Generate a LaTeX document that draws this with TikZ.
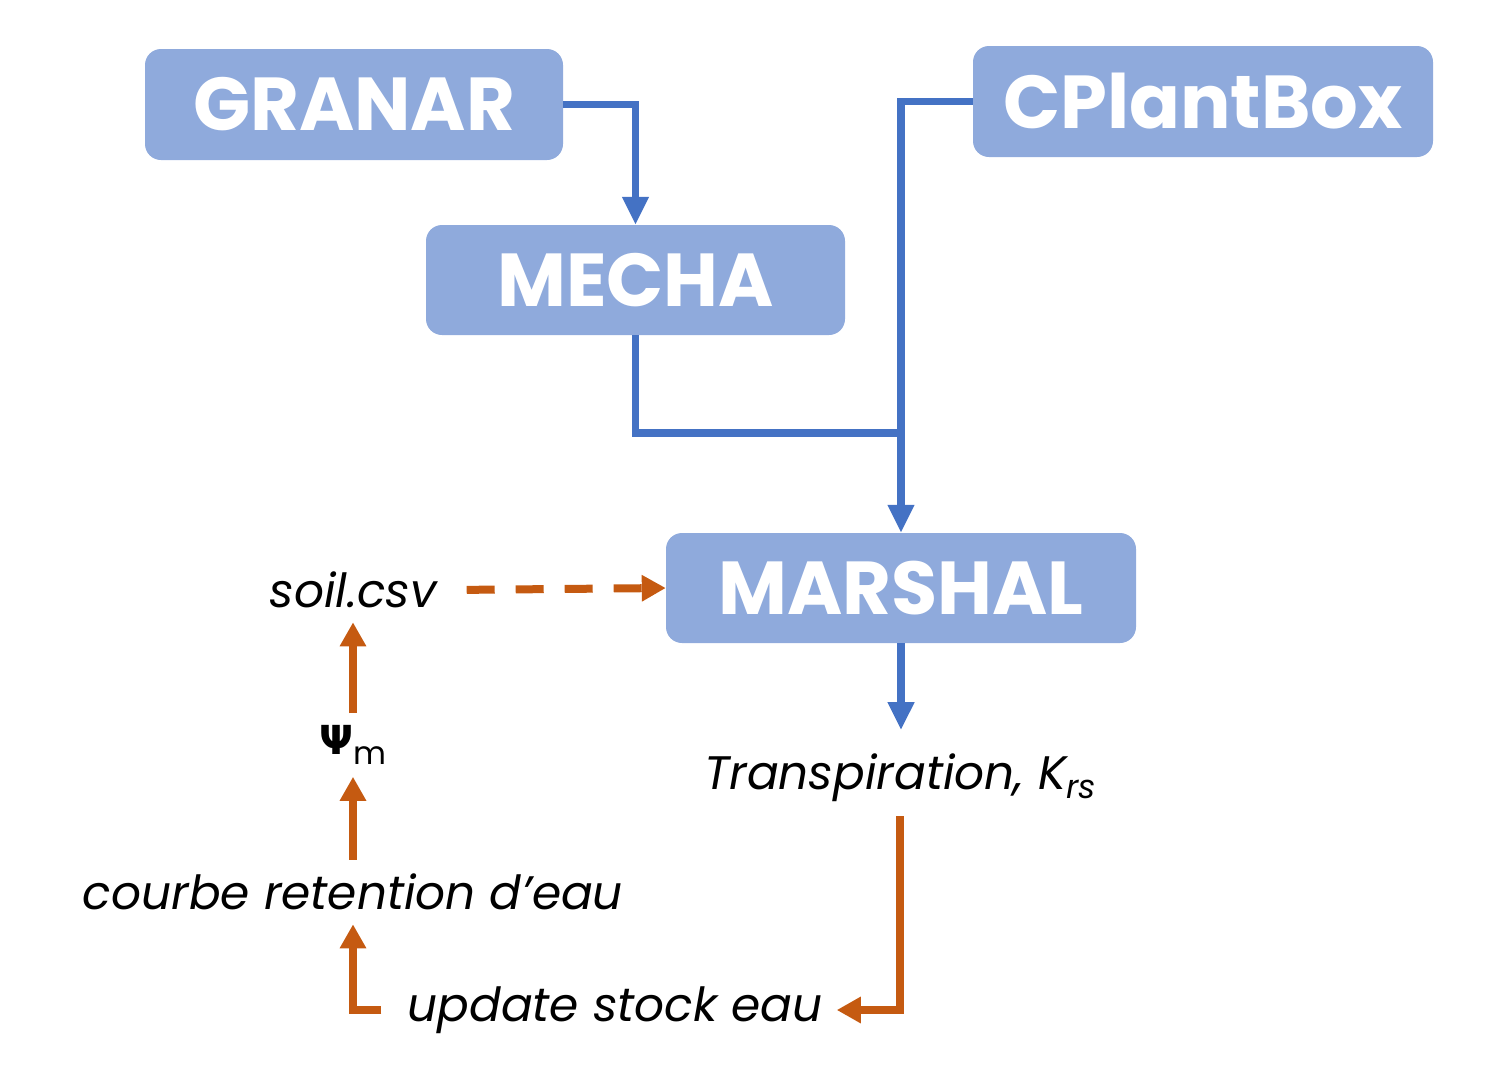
\documentclass[tikz,border=0pt]{standalone}
\usepackage{fontspec}
\setmainfont{Poppins}
\newfontfamily\psifont{DejaVu Sans}
\usetikzlibrary{arrows.meta}
\definecolor{boxblue}{HTML}{8FAADC}
\definecolor{lineblue}{HTML}{4472C4}
\definecolor{rust}{HTML}{C55A11}
\tikzset{
  model/.style={fill=boxblue, rounded corners=16pt, inner sep=0pt, text=white,
    font=\fontsize{75}{80}\selectfont\bfseries},
  lbl/.style={inner sep=14pt, font=\fontsize{47}{52}\selectfont\itshape},
  bflow/.style={lineblue, line width=7.5pt, ->, >={Triangle[length=28pt,width=25pt]}},
  oflow/.style={rust, line width=8pt, ->, >={Triangle[length=24pt,width=25pt]}}
}
\begin{document}
\begin{tikzpicture}[x=1pt, y=-1pt, line join=miter]
\useasboundingbox (0,0) rectangle (1491,1088);
% models
\node[model, minimum width=418pt, minimum height=111pt] (granar) at (354,104.5) {GRANAR};
\node[model, minimum width=419pt, minimum height=110pt] (mecha) at (635.5,280) {MECHA};
\node[model, minimum width=460pt, minimum height=111pt] (cplantbox) at (1203,101.5) {CPlantBox};
\node[model, minimum width=470pt, minimum height=110pt] (marshal) at (901,588) {MARSHAL};
% labels
\node[lbl] (transp) at (900,778) {Transpiration, K\raisebox{-9pt}{\fontsize{33}{36}\selectfont rs}};
\node[lbl] (update) at (615,1010) {update stock eau};
\node[lbl] (courbe) at (353,892) {courbe retention d’eau};
\node[inner sep=12pt] (psim) at (353,745) {{\psifont\bfseries\fontsize{40}{44}\selectfont Ψ}\raisebox{-10pt}{\fontsize{32}{36}\selectfont m}};
\node[lbl] (soil) at (353,590) {soil.csv};
\coordinate (join) at (905,433);
% blue links
\draw[bflow] (granar.east) -| (mecha.north);
\draw[bflow] (cplantbox.west) -| (marshal.north);
\draw[lineblue, line width=7.5pt] (mecha.south) |- (join);
\draw[bflow] (marshal.south) -- ++(0,87);
% water loop
\draw[oflow] (transp.south) |- (update.east);
\draw[oflow, shorten <=12pt] (update.west) -| (courbe.south);
\draw[oflow] (courbe.north) -- (psim.south);
\draw[oflow] (psim.north) -- (soil.south);
\draw[oflow, shorten <=16pt, dash pattern=on 28pt off 21pt] (soil.east) -- (marshal.west);
\end{tikzpicture}
\end{document}
